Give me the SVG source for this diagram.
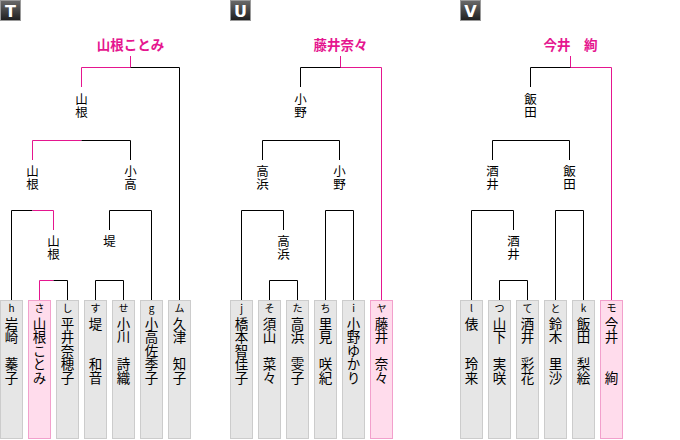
<svg xmlns="http://www.w3.org/2000/svg" width="680" height="440" viewBox="0 0 680 440">
<defs>
<linearGradient id="ig" x1="0" y1="0" x2="0" y2="1">
<stop offset="0" stop-color="#6a6a6a"/>
<stop offset="1" stop-color="#1e1e1e"/>
</linearGradient>
</defs>
<style>
.ic{fill:url(#ig);stroke:#9a9a9a;stroke-width:1}
.il{font-family:"DejaVu Sans","Liberation Sans",sans-serif;font-weight:bold;font-size:16px;fill:#fff;text-anchor:middle}
.ti{font-family:"Noto Sans CJK JP",sans-serif;font-weight:bold;font-size:13.5px;fill:#e5168f;text-anchor:middle}
.k{stroke:#000;stroke-width:1;fill:none}
.p{stroke:#e5168f;stroke-width:1;fill:none}
.bx{fill:#e6e6e6;stroke:#cccccc;stroke-width:1}
.bw{fill:#ffdcec;stroke:#f2a0cc;stroke-width:1}
.sl{font-family:"Noto Sans CJK JP",sans-serif;font-size:10px;fill:#000;text-anchor:middle}
.nm{font-family:"Noto Sans CJK JP",sans-serif;font-size:13.5px;fill:#000;writing-mode:vertical-rl}
.lb{font-family:"Noto Sans CJK JP",sans-serif;font-size:12.5px;fill:#000;writing-mode:vertical-rl}
</style>

<g id="icon-T"><rect class="ic" x="0.5" y="0.5" width="20" height="20"/><text class="il" x="10.5" y="16.5">T</text></g>
<g id="icon-U"><rect class="ic" x="230.5" y="0.5" width="20" height="20"/><text class="il" x="240.5" y="16.5">U</text></g>
<g id="icon-V"><rect class="ic" x="460.5" y="0.5" width="20" height="20"/><text class="il" x="470.5" y="16.5">V</text></g>

<g id="title-T"><text class="ti" x="130.5" y="50">山根ことみ</text></g>
<g id="title-U"><text class="ti" x="340.5" y="50">藤井奈々</text></g>
<g id="title-V"><text class="ti" x="570.5" y="50">今井　絢</text></g>

<g id="connectors">
<!-- T -->
<path class="p" d="M130.5 56V67.5H81.5V87"/>
<path class="k" d="M130.5 67.5H179.5V300"/>
<path class="p" d="M81.5 140.5H32.5V160"/>
<path class="k" d="M81.5 140.5H130.5V160"/>
<path class="k" d="M32.5 210.5H11.5V300"/>
<path class="p" d="M32.5 210.5H53.5V230"/>
<path class="k" d="M109.5 230V210.5H151.5V300"/>
<path class="p" d="M53.5 280.5H39.5V300"/>
<path class="k" d="M53.5 280.5H67.5V300"/>
<path class="k" d="M95.5 300V280.5H123.5V300"/>
<!-- U -->
<path class="p" d="M340.5 56V67.5H381.5V300"/>
<path class="k" d="M340.5 67.5H300.5V87"/>
<path class="k" d="M262.5 160V140.5H339.5V160"/>
<path class="k" d="M241.5 300V210.5H283.5V230"/>
<path class="k" d="M325.5 300V210.5H353.5V300"/>
<path class="k" d="M269.5 300V280.5H297.5V300"/>
<!-- V -->
<path class="p" d="M570.5 56V67.5H611.5V300"/>
<path class="k" d="M570.5 67.5H530.5V87"/>
<path class="k" d="M492.5 160V140.5H569.5V160"/>
<path class="k" d="M471.5 300V210.5H513.5V230"/>
<path class="k" d="M555.5 300V210.5H583.5V300"/>
<path class="k" d="M499.5 300V280.5H527.5V300"/>
</g>

<!-- T labels -->
<g id="T-final"><text class="lb" x="81.5" y="93">山根</text></g>
<g id="T-semi1"><text class="lb" x="32.5" y="165">山根</text></g>
<g id="T-semi2"><text class="lb" x="130.5" y="165">小高</text></g>
<g id="T-qf1"><text class="lb" x="53.5" y="235">山根</text></g>
<g id="T-qf2"><text class="lb" x="109.5" y="235">堤</text></g>
<!-- U labels -->
<g id="U-final"><text class="lb" x="300.5" y="93">小野</text></g>
<g id="U-semi1"><text class="lb" x="262.5" y="165">高浜</text></g>
<g id="U-semi2"><text class="lb" x="339.5" y="165">小野</text></g>
<g id="U-qf1"><text class="lb" x="283.5" y="235">高浜</text></g>
<!-- V labels -->
<g id="V-final"><text class="lb" x="530.5" y="93">飯田</text></g>
<g id="V-semi1"><text class="lb" x="492.5" y="165">酒井</text></g>
<g id="V-semi2"><text class="lb" x="569.5" y="165">飯田</text></g>
<g id="V-qf1"><text class="lb" x="513.5" y="235">酒井</text></g>

<!-- T boxes -->
<g id="T-h"><rect class="bx" x="0.5" y="300.5" width="22" height="138"/><text class="sl" x="11.5" y="312">h</text><text class="nm" x="11.5" y="317">岩崎　蓁子</text></g>
<g id="T-sa"><rect class="bw" x="28.5" y="300.5" width="22" height="138"/><text class="sl" x="39.5" y="312">さ</text><text class="nm" x="39.5" y="317">山根ことみ</text></g>
<g id="T-shi"><rect class="bx" x="56.5" y="300.5" width="22" height="138"/><text class="sl" x="67.5" y="312">し</text><text class="nm" x="67.5" y="317">平井奈穂子</text></g>
<g id="T-su"><rect class="bx" x="84.5" y="300.5" width="22" height="138"/><text class="sl" x="95.5" y="312">す</text><text class="nm" x="95.5" y="317">堤　　和音</text></g>
<g id="T-se"><rect class="bx" x="112.5" y="300.5" width="22" height="138"/><text class="sl" x="123.5" y="312">せ</text><text class="nm" x="123.5" y="317">小川　詩織</text></g>
<g id="T-g"><rect class="bx" x="140.5" y="300.5" width="22" height="138"/><text class="sl" x="151.5" y="312">g</text><text class="nm" x="151.5" y="317">小高佐季子</text></g>
<g id="T-mu"><rect class="bx" x="168.5" y="300.5" width="22" height="138"/><text class="sl" x="179.5" y="312">ム</text><text class="nm" x="179.5" y="317">久津　知子</text></g>
<!-- U boxes -->
<g id="U-j"><rect class="bx" x="230.5" y="300.5" width="22" height="138"/><text class="sl" x="241.5" y="312">j</text><text class="nm" x="241.5" y="317">橋本智佳子</text></g>
<g id="U-so"><rect class="bx" x="258.5" y="300.5" width="22" height="138"/><text class="sl" x="269.5" y="312">そ</text><text class="nm" x="269.5" y="317">須山　菜々</text></g>
<g id="U-ta"><rect class="bx" x="286.5" y="300.5" width="22" height="138"/><text class="sl" x="297.5" y="312">た</text><text class="nm" x="297.5" y="317">高浜　雯子</text></g>
<g id="U-chi"><rect class="bx" x="314.5" y="300.5" width="22" height="138"/><text class="sl" x="325.5" y="312">ち</text><text class="nm" x="325.5" y="317">里見　咲紀</text></g>
<g id="U-i"><rect class="bx" x="342.5" y="300.5" width="22" height="138"/><text class="sl" x="353.5" y="312">i</text><text class="nm" x="353.5" y="317">小野ゆかり</text></g>
<g id="U-ya"><rect class="bw" x="370.5" y="300.5" width="22" height="138"/><text class="sl" x="381.5" y="312">ヤ</text><text class="nm" x="381.5" y="317">藤井　奈々</text></g>
<!-- V boxes -->
<g id="V-l"><rect class="bx" x="460.5" y="300.5" width="22" height="138"/><text class="sl" x="471.5" y="312">l</text><text class="nm" x="471.5" y="317">俵　　玲来</text></g>
<g id="V-tsu"><rect class="bx" x="488.5" y="300.5" width="22" height="138"/><text class="sl" x="499.5" y="312">つ</text><text class="nm" x="499.5" y="317">山下　実咲</text></g>
<g id="V-te"><rect class="bx" x="516.5" y="300.5" width="22" height="138"/><text class="sl" x="527.5" y="312">て</text><text class="nm" x="527.5" y="317">酒井　彩花</text></g>
<g id="V-to"><rect class="bx" x="544.5" y="300.5" width="22" height="138"/><text class="sl" x="555.5" y="312">と</text><text class="nm" x="555.5" y="317">鈴木　里沙</text></g>
<g id="V-k"><rect class="bx" x="572.5" y="300.5" width="22" height="138"/><text class="sl" x="583.5" y="312">k</text><text class="nm" x="583.5" y="317">飯田　梨絵</text></g>
<g id="V-mo"><rect class="bw" x="600.5" y="300.5" width="22" height="138"/><text class="sl" x="611.5" y="312">モ</text><text class="nm" x="611.5" y="317">今井　　絢</text></g>
</svg>
